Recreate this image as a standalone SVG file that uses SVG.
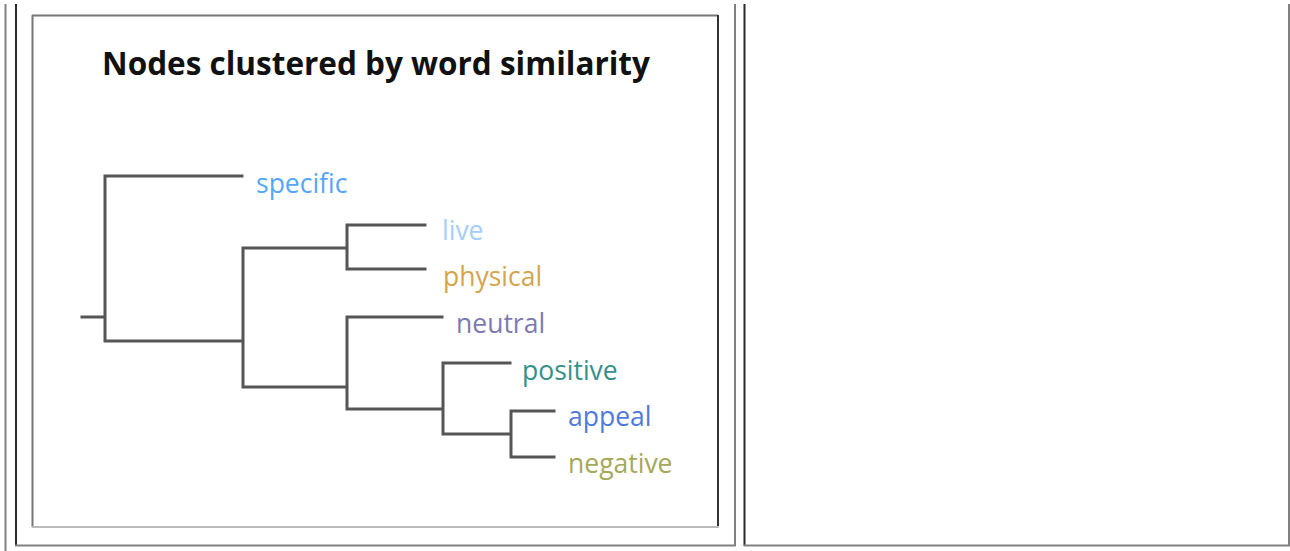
<svg xmlns="http://www.w3.org/2000/svg" width="1290" height="551" viewBox="0 0 1290 551">
<style>
.tb{stroke:#808080;stroke-width:2;fill:none}
.td{stroke:#2a2a2a;stroke-width:2;fill:none}
.edge{stroke:#555;stroke-width:3;fill:none;stroke-linecap:square}
.lbl{font-family:"Open Sans","Noto Sans",sans-serif;font-size:26.5px}
.title{font-family:"Open Sans","Noto Sans",sans-serif;font-size:31.5px;font-weight:bold;fill:#111}
</style>
<rect width="1290" height="551" fill="#fff"/>
<g id="table">
<line class="tb" x1="5.5" y1="4" x2="5.5" y2="551"/>
<line class="td" x1="16" y1="4" x2="16" y2="546"/>
<line class="tb" x1="15" y1="545.5" x2="736" y2="545.5"/>
<line class="tb" x1="735" y1="4" x2="735" y2="546"/>
<line class="td" x1="744.5" y1="4" x2="744.5" y2="546"/>
<line class="tb" x1="744" y1="545.5" x2="1290" y2="545.5"/>
<line class="tb" x1="1289" y1="4" x2="1289" y2="546"/>
</g>
<g id="frame">
<line x1="32" y1="15.5" x2="718" y2="15.5" stroke="#777" stroke-width="2"/>
<line x1="32.5" y1="15" x2="32.5" y2="527" stroke="#777" stroke-width="2"/>
<line x1="718" y1="15" x2="718" y2="527" stroke="#333" stroke-width="2"/>
<line x1="32" y1="527" x2="719" y2="527" stroke="#bbb" stroke-width="2"/>
</g>
<text id="title" class="title" x="376" y="75" text-anchor="middle">Nodes clustered by word similarity</text>
<g id="connectors">
<path class="edge" d="M82 317H105M105 176V341M105 176H242M105 341H243M243 248V387M243 248H347M347 225V269M347 225H425M347 269H425M243 387H347M347 317V409M347 317H442M347 409H443M443 363V434M443 363H510M443 434H511M511 411V457M511 411H554M511 457H554"/>
</g>
<g id="node-specific"><text class="lbl" x="256" y="193" fill="#55a6fb">specific</text></g>
<g id="node-live"><text class="lbl" x="442" y="240" fill="#a6cdfb">live</text></g>
<g id="node-physical"><text class="lbl" x="443" y="286" fill="#d4a54e">physical</text></g>
<g id="node-neutral"><text class="lbl" x="456" y="333" fill="#7d7ab0">neutral</text></g>
<g id="node-positive"><text class="lbl" x="522" y="380" fill="#34918a">positive</text></g>
<g id="node-appeal"><text class="lbl" x="568" y="426" fill="#4f7bd8">appeal</text></g>
<g id="node-negative"><text class="lbl" x="568" y="473" fill="#a5a859">negative</text></g>
</svg>
